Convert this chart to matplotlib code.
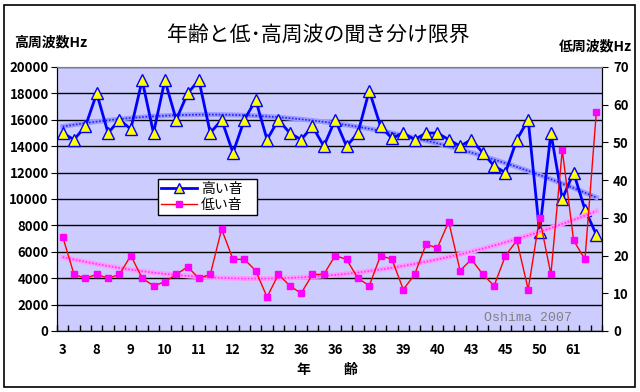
import numpy as np
import matplotlib
matplotlib.use("Agg")
import matplotlib.pyplot as plt
from matplotlib.lines import Line2D
from matplotlib.patches import Rectangle

plt.rcParams['font.family'] = ['Noto Sans CJK JP', 'DejaVu Sans']

# 年齢ラベル (3つおきに表示)
age_labels = ["3", "8", "9", "10", "11", "12", "32", "36",
              "36", "38", "39", "40", "43", "45", "50", "61"]

# 高い音 (Hz) - 左軸
high = [15000, 14500, 15500, 18000, 15000, 16000, 15300, 19000,
        15000, 19000, 16000, 18000, 19000, 15000, 16000, 13500,
        16000, 17500, 14500, 16000, 15000, 14500, 15500, 14000,
        16000, 14000, 15000, 18200, 15500, 14600, 15000, 14500,
        15000, 15000, 14500, 14000, 14500, 13500, 12500, 12000,
        14500, 16000, 7500, 15000, 10000, 12000, 9200, 7300]

# 低い音 (Hz) - 右軸
low = [25, 15, 14, 15, 14, 15, 20, 14,
       12, 13, 15, 17, 14, 15, 27, 19,
       19, 16, 9, 15, 12, 10, 15, 15,
       20, 19, 14, 12, 20, 19, 11, 15,
       23, 22, 29, 16, 19, 15, 12, 20,
       24, 11, 30, 15, 48, 24, 19, 58]

x = np.arange(len(high))

# 2次の近似曲線
high_trend = np.polyval(np.polyfit(x, high, 2), x)
low_trend = np.polyval(np.polyfit(x, low, 2), x)

fig = plt.figure(figsize=(6.4, 3.92), dpi=100)
fig.patch.set_facecolor("white")
fig.patches.append(Rectangle((4 / 640, 1 - 387 / 392), 631 / 640, 382 / 392,
                             transform=fig.transFigure, fill=False,
                             edgecolor="black", linewidth=1.2))

ax1 = fig.add_axes([57 / 640, 1 - 331 / 392, 545 / 640, 264 / 392])
ax1.set_facecolor("#CCCCFF")
ax2 = ax1.twinx()

# 近似曲線
ax1.plot(x, high_trend, color="#9999FF", lw=3.5, zorder=2)
ax1.plot(x, high_trend, color="#2222FF", lw=1.2, ls=(0, (1, 1)), zorder=2)
ax2.plot(x, low_trend, color="#FF99FF", lw=3.5, zorder=2)
ax2.plot(x, low_trend, color="#FF33FF", lw=1.2, ls=(0, (1, 1)), zorder=2)

ax1.plot(x, high, color="#0000FF", lw=2, marker="^", markersize=8,
         markerfacecolor="#FFFF00", markeredgecolor="#0000FF",
         markeredgewidth=1, zorder=3)
ax2.plot(x, low, color="#FF0000", lw=1, marker="s", markersize=5,
         markerfacecolor="#FF00FF", markeredgecolor="#FF00FF", zorder=3)

ax1.set_xlim(-0.5, len(high) - 0.5)
ax1.set_ylim(0, 20000)
ax2.set_ylim(0, 70)
ax1.set_yticks(np.arange(0, 20001, 2000))
ax2.set_yticks(np.arange(0, 71, 10))
ax1.set_xticks(np.arange(0, len(high), 3))
ax1.set_xticklabels(age_labels)
ax1.set_xticks(np.arange(-0.5, len(high), 1), minor=True)

ax1.set_axisbelow(True)
ax1.grid(axis="y", color="black", lw=1)
ax1.tick_params(axis="x", which="major", length=0, pad=9)
ax1.tick_params(axis="x", which="minor", direction="in", length=4, width=1)
ax1.tick_params(axis="y", direction="out", length=4, pad=2)
ax2.tick_params(axis="y", direction="out", length=4, pad=4)

for lab in ax1.get_xticklabels() + ax1.get_yticklabels() + ax2.get_yticklabels():
    lab.set_fontsize(9.5)
    lab.set_fontweight("bold")

for ax in (ax1, ax2):
    ax.spines["top"].set_color("#808080")
    ax.spines["left"].set_color("black")
    ax.spines["right"].set_color("black")
    ax.spines["bottom"].set_color("black")

handles = [
    Line2D([], [], color="#0000FF", lw=2, marker="^", markersize=7,
           markerfacecolor="#FFFF00", markeredgecolor="#0000FF"),
    Line2D([], [], color="#FF0000", lw=1, marker="s", markersize=5,
           markerfacecolor="#FF00FF", markeredgecolor="#FF00FF"),
]
leg = ax2.legend(handles, ["高い音", "低い音"], loc="lower left",
                 bbox_to_anchor=(0.185, 0.44, 0.182, 0.12), mode="expand",
                 fontsize=10, frameon=True, fancybox=False, borderpad=0.2,
                 handlelength=2.6, labelspacing=0.15, handletextpad=0.3,
                 borderaxespad=0)
leg.get_frame().set_edgecolor("black")
leg.get_frame().set_linewidth(1)
leg.get_frame().set_alpha(1)

ax1.text(0.945, 0.05, "Oshima 2007", transform=ax1.transAxes, ha="right",
         va="center", color="#808080", fontsize=9.5, family="Liberation Mono")

fig.text(318 / 640, 1 - 35 / 392, "年齢と低･高周波の聞き分け限界",
         ha="center", va="center", fontsize=15)
fig.text(14 / 640, 1 - 42 / 392, "高周波数Hz", ha="left", va="center",
         fontsize=10, fontweight="bold")
fig.text(632 / 640, 1 - 47 / 392, "低周波数Hz", ha="right", va="center",
         fontsize=10, fontweight="bold")
fig.text(303 / 640, 1 - 370 / 392, "年", ha="center", va="center",
         fontsize=10, fontweight="bold")
fig.text(350 / 640, 1 - 370 / 392, "齢", ha="center", va="center",
         fontsize=10, fontweight="bold")

fig.savefig("out.png", dpi=100)
